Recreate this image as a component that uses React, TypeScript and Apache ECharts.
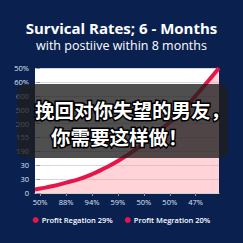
import React, { useEffect, useRef } from "react";
import * as echarts from "echarts";

const titleText = "Survical Rates; 6 - Months";
const subtitleText = "with postiive within 8 months";
const xLabels = ["50%", "88%", "94%", "59%", "50%", "50%", "47%"];
const yLabels = ["0", "30", "30", "190", "155", "200", "500", "600", "60%", "50%"];
const curveX = [-0.2, 0, 0.5, 1, 1.5, 2, 2.5, 3, 3.5, 4, 4.5, 5, 5.5, 6, 6.5, 6.9];
const curveY = [0.25, 0.32, 0.5, 0.75, 1.0, 1.35, 1.8, 2.3, 2.9, 3.55, 4.35, 5.1, 5.95, 7.0, 8.1, 9.0];
const seriesNames = ["Profit Regation 29%", "Profit Megration 20%"];
const overlayLines = ["挽回对你失望的男友，", "你需要这样做！"];

export default function App() {
  const ref = useRef<HTMLDivElement>(null);
  useEffect(() => {
    if (!ref.current) return;
    const chart = echarts.init(ref.current, null, { renderer: "svg" });
    const data = curveX.map((x, i) => [x, curveY[i]]);
    const red = "#e3174a";
    chart.setOption({
      animation: false,
      backgroundColor: "#0a2150",
      title: [
        {
          text: titleText,
          left: "center",
          top: 15,
          textStyle: { color: "#ffffff", fontSize: 15, fontWeight: "bold", fontFamily: "Open Sans" },
        },
        {
          text: subtitleText,
          left: "center",
          top: 34,
          textStyle: { color: "#ffffff", fontSize: 12.5, fontWeight: "normal", fontFamily: "Open Sans" },
        },
      ],
      grid: {
        left: 35,
        right: 24,
        top: 68,
        bottom: 50,
        show: true,
        backgroundColor: "#ffffff",
        borderWidth: 0,
      },
      legend: {
        data: seriesNames,
        top: 211,
        left: "center",
        icon: "circle",
        itemWidth: 6,
        itemHeight: 6,
        itemGap: 12,
        textStyle: { color: "#ffffff", fontSize: 7.5, fontWeight: 600, fontFamily: "Open Sans", padding: [0, 0, 0, -2] },
      },
      xAxis: {
        type: "value",
        min: -0.2,
        max: 6.9,
        axisLine: { show: true, lineStyle: { color: "#cfcfcf" } },
        axisTick: { show: true, length: 3, lineStyle: { color: "#8896b0" }, customValues: [0, 1, 2, 3, 4, 5, 6] },
        axisLabel: {
          color: "#dfe5f0",
          fontSize: 7.5,
          fontFamily: "Open Sans",
          margin: 5,
          customValues: [0, 1, 2, 3, 4, 5, 6],
          formatter: (v: number) => xLabels[Math.round(v)] ?? "",
        },
        splitLine: { show: false },
      },
      yAxis: {
        type: "value",
        min: 0,
        max: 9,
        interval: 1,
        axisLine: { show: false },
        axisTick: { show: true, length: 4, lineStyle: { color: "#8896b0" } },
        axisLabel: {
          color: "#dfe5f0",
          fontSize: 7.5,
          fontFamily: "Open Sans",
          margin: 6,
          formatter: (v: number) => yLabels[Math.round(v)] ?? "",
        },
        splitLine: { show: true, lineStyle: { color: "#d8d8d8", width: 1 } },
      },
      series: [
        {
          name: seriesNames[1],
          type: "line",
          data,
          smooth: true,
          showSymbol: false,
          lineStyle: { width: 0 },
          itemStyle: { color: red },
          areaStyle: { color: "rgba(255,150,162,0.42)", opacity: 1 },
          z: 2,
        },
        {
          name: seriesNames[0],
          type: "line",
          data,
          smooth: true,
          showSymbol: false,
          lineStyle: { width: 4, color: red },
          itemStyle: { color: red },
          z: 3,
        },
      ],
      graphic: [
        {
          type: "rect",
          z: 100,
          shape: { x: 17, y: 84, width: 211, height: 74, r: 8 },
          style: { fill: "rgba(30,30,30,0.78)" },
        },
        {
          type: "text",
          z: 101,
          x: 35,
          y: 109,
          style: {
            text: overlayLines[0],
            fill: "#ffffff",
            stroke: "#000000",
            lineWidth: 3,
            fontSize: 19.5,
            fontWeight: "bold",
            fontFamily: "Noto Sans CJK SC",
            verticalAlign: "middle",
            align: "left",
          },
        },
        {
          type: "text",
          z: 101,
          x: 51,
          y: 136,
          style: {
            text: overlayLines[1],
            fill: "#ffffff",
            stroke: "#000000",
            lineWidth: 3,
            fontSize: 19.5,
            fontWeight: "bold",
            fontFamily: "Noto Sans CJK SC",
            verticalAlign: "middle",
            align: "left",
          },
        },
      ],
    });
    return () => chart.dispose();
  }, []);
  return <div ref={ref} style={{ width: 243, height: 243, position: "absolute", left: 0, top: 0 }} />;
}
